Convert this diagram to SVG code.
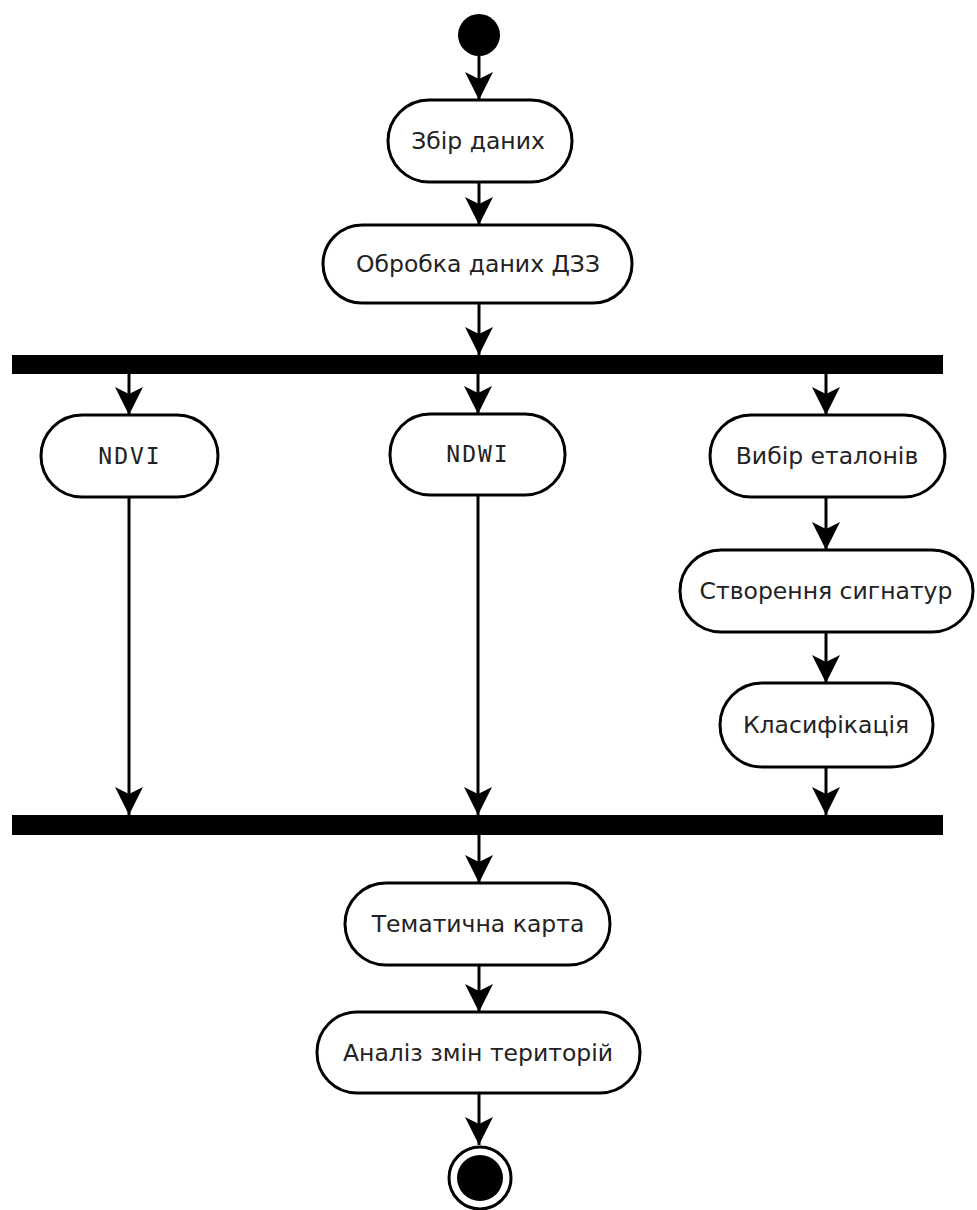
<svg xmlns="http://www.w3.org/2000/svg" width="977" height="1210" viewBox="0 0 977 1210">
<style>
.act{fill:#fff;stroke:#000;stroke-width:3}
.lbl{font-family:"DejaVu Sans","Liberation Sans",sans-serif;font-size:23.5px;fill:#222;text-anchor:middle;dominant-baseline:central}
.mono{font-family:"DejaVu Sans Mono","Liberation Mono",monospace;font-size:23px;fill:#222;text-anchor:middle;dominant-baseline:central;letter-spacing:2px}
.edge{stroke:#000;stroke-width:3;fill:none;marker-end:url(#arr)}
.bar{fill:#000}
</style>
<defs>
<marker id="arr" viewBox="0 -14 28 28" refX="28" refY="0" markerWidth="28" markerHeight="28" markerUnits="userSpaceOnUse" orient="auto">
<path d="M0,-14 L28,0 L0,14 L7,0 z" fill="#000"/>
</marker>
</defs>
<g id="connectors">
<line class="edge" x1="479" y1="56" x2="479" y2="100"/>
<line class="edge" x1="479" y1="182" x2="479" y2="225"/>
<line class="edge" x1="479" y1="303" x2="479" y2="355"/>
<line class="edge" x1="129" y1="374" x2="129" y2="415"/>
<line class="edge" x1="478" y1="374" x2="478" y2="414"/>
<line class="edge" x1="826" y1="374" x2="826" y2="415"/>
<line class="edge" x1="826" y1="497" x2="826" y2="550"/>
<line class="edge" x1="826" y1="632" x2="826" y2="683"/>
<line class="edge" x1="826" y1="767" x2="826" y2="815"/>
<line class="edge" x1="129" y1="497" x2="129" y2="815"/>
<line class="edge" x1="478" y1="495" x2="478" y2="815"/>
<line class="edge" x1="479" y1="835" x2="479" y2="883"/>
<line class="edge" x1="479" y1="965" x2="479" y2="1012"/>
<line class="edge" x1="479" y1="1093" x2="479" y2="1145"/>
</g>
<g id="start"><circle cx="479" cy="35" r="21" fill="#000"/></g>
<g id="n1"><rect class="act" x="388" y="100" width="184" height="82" rx="41"/><text class="lbl" x="478" y="141">Збір даних</text></g>
<g id="n2"><rect class="act" x="323" y="225" width="309" height="78" rx="39"/><text class="lbl" x="478" y="264">Обробка даних ДЗЗ</text></g>
<g id="fork"><rect class="bar" x="12" y="355" width="931" height="19"/></g>
<g id="ndvi"><rect class="act" x="41" y="415" width="177" height="82" rx="41"/><text class="mono" x="130" y="456">NDVI</text></g>
<g id="ndwi"><rect class="act" x="390" y="414" width="175" height="81" rx="40"/><text class="mono" x="478" y="454">NDWI</text></g>
<g id="n3"><rect class="act" x="710" y="415" width="235" height="82" rx="41"/><text class="lbl" x="827" y="456">Вибір еталонів</text></g>
<g id="n4"><rect class="act" x="680" y="550" width="293" height="82" rx="41"/><text class="lbl" x="826" y="591">Створення сигнатур</text></g>
<g id="n5"><rect class="act" x="720" y="683" width="213" height="84" rx="42"/><text class="lbl" x="826" y="725">Класифікація</text></g>
<g id="join"><rect class="bar" x="12" y="815" width="931" height="20"/></g>
<g id="n6"><rect class="act" x="345" y="883" width="265" height="82" rx="41"/><text class="lbl" x="478" y="924">Тематична карта</text></g>
<g id="n7"><rect class="act" x="317" y="1012" width="323" height="81" rx="40"/><text class="lbl" x="478" y="1053">Аналіз змін територій</text></g>
<g id="end"><circle cx="480" cy="1178" r="31" fill="#fff" stroke="#000" stroke-width="3"/><circle cx="480" cy="1178" r="23" fill="#000"/></g>
</svg>
